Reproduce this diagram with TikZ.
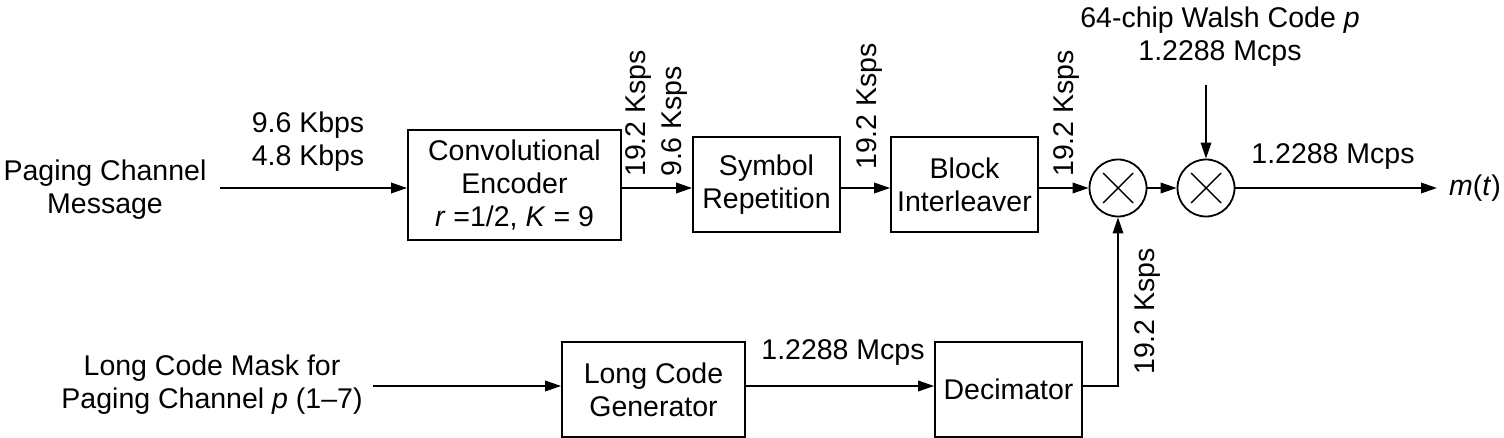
\documentclass[tikz,border=0pt]{standalone}
\usepackage{fontspec}
\setmainfont{Liberation Sans}
\usetikzlibrary{arrows.meta}
\begin{document}
\begin{tikzpicture}[x=1pt,y=-1pt, font=\fontsize{28.5}{33}\selectfont,
  box/.style={draw, line width=1.8pt, inner sep=0pt, align=center},
  arr/.style={line width=1.8pt, -{Triangle[length=16pt,width=10.5pt]}},
  ln/.style={line width=1.8pt},
  mult/.style={draw, circle, line width=1.8pt, minimum size=57pt, inner sep=0pt},
  lbl/.style={inner sep=0pt, align=center},
  vlbl/.style={inner sep=0pt, rotate=90, anchor=west}]
\useasboundingbox (0,0) rectangle (1504,438);

% blocks
\node[box, minimum width=213pt, minimum height=110pt] (conv) at (514.5,185) {Convolutional\\Encoder\\\textit{r} =1/2, \textit{K} = 9};
\node[box, minimum width=147pt, minimum height=95pt] (rep) at (766.5,184.5) {Symbol\\Repetition};
\node[box, minimum width=147pt, minimum height=95pt] (blk) at (964.5,184.5) {Block\\Interleaver};
\node[mult] (m1) at (1118,188) {};
\node[mult] (m2) at (1206,188) {};
\foreach \m in {m1,m2}{
  \draw[line width=1.4pt] (\m.center) +(-15,-15) -- +(15,15);
  \draw[line width=1.4pt] (\m.center) +(-15,15) -- +(15,-15);
}
\node[box, minimum width=183pt, minimum height=95pt] (lcg) at (653.5,389.5) {Long Code\\Generator};
\node[box, minimum width=147pt, minimum height=95pt] (dec) at (1008.5,389.5) {Decimator};

% texts
\node[lbl] (pcm) at (105,190) {Paging Channel\\Message};
\node[lbl] (rate1) at (308,142) {9.6 Kbps\\4.8 Kbps};
\node[lbl] (lcm) at (212,385) {Long Code Mask for\\Paging Channel \textit{p} (1–7)};
\node[lbl] (walsh) at (1220,37) {64-chip Walsh Code \textit{p}\\1.2288 Mcps};
\node[lbl] (rate2) at (1333,157) {1.2288 Mcps};
\node[lbl] (rate3) at (843,353) {1.2288 Mcps};
\node[inner sep=0pt, anchor=west] (mt) at (1449,188) {\textit{m}(\textit{t})};

\node[vlbl] (v1) at (638,177) {19.2 Ksps};
\node[vlbl] (v2) at (674,177) {9.6 Ksps};
\node[vlbl] (v3) at (869,170) {19.2 Ksps};
\node[vlbl] (v4) at (1066,177) {19.2 Ksps};
\node[vlbl] (v5) at (1147,375) {19.2 Ksps};

% coordinates
\coordinate (in1) at (220,188);
\coordinate (in2) at (373,386);
\coordinate (wal) at (1206,85);
\coordinate (out) at (1437,188);
\coordinate (bend) at (1118,386);

% connectors
\draw[arr] (in1) -- (conv.west |- in1);
\draw[arr] (conv.east |- m1) -- (rep.west |- m1);
\draw[arr] (rep.east |- m1) -- (blk.west |- m1);
\draw[arr] (blk.east |- m1) -- (m1.west);
\draw[arr] (m1.east) -- (m2.west);
\draw[arr] (wal) -- (m2.north);
\draw[arr] (m2.east) -- (out);
\draw[arr] (in2) -- (lcg.west |- in2);
\draw[arr] (lcg.east |- in2) -- (dec.west |- in2);
\draw[arr] (dec.east |- bend) -- (bend) -- (m1.south);
\end{tikzpicture}
\end{document}
